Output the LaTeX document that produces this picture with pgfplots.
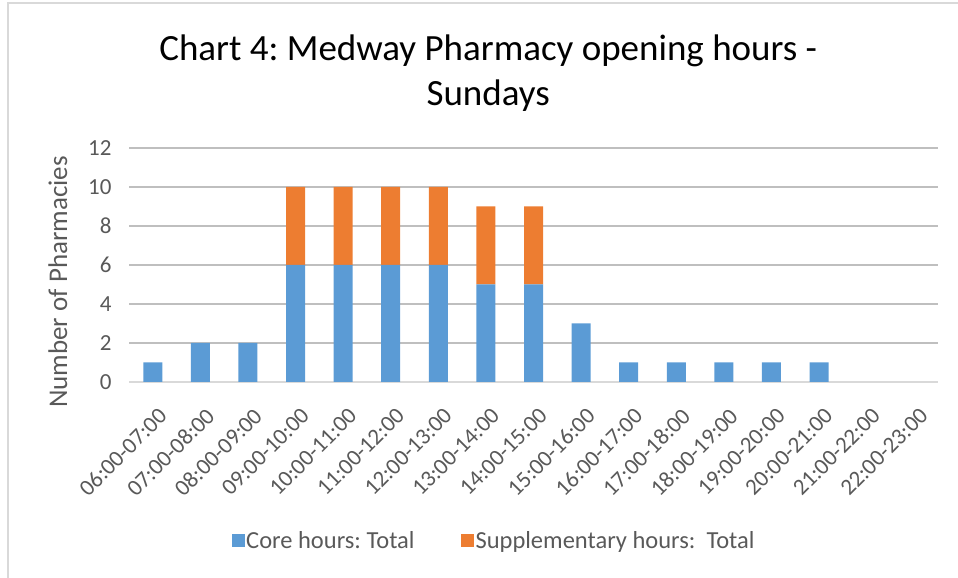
\documentclass[border=0pt]{standalone}
\usepackage{fontspec}
\setmainfont{Carlito}
\usepackage{pgfplots}
\pgfplotsset{compat=1.18}

\definecolor{core}{HTML}{5B9BD5}
\definecolor{supp}{HTML}{ED7D31}
\definecolor{txt}{HTML}{595959}
\definecolor{grid}{HTML}{D9D9D9}

\begin{document}
\frenchspacing
\begin{tikzpicture}
\path[use as bounding box] (0pt,0pt) rectangle (958pt,578pt);
\draw[grid,line width=1.2pt] (8pt,0pt) -- (8pt,575pt) -- (958pt,575pt);

\begin{axis}[
	at={(129pt,196pt)}, anchor=south west,
	scale only axis,
	width=809pt, height=234pt,
	ybar stacked,
	bar width=19pt,
	xmin=-0.5, xmax=16.5,
	ymin=0, ymax=12,
	ytick={0,2,...,12},
	xtick={0,...,16},
	xticklabels={06:00-07:00,07:00-08:00,08:00-09:00,09:00-10:00,10:00-11:00,11:00-12:00,12:00-13:00,13:00-14:00,14:00-15:00,15:00-16:00,16:00-17:00,17:00-18:00,18:00-19:00,19:00-20:00,20:00-21:00,21:00-22:00,22:00-23:00},
	xticklabel style={rotate=45, anchor=north east, xshift=-11pt, yshift=-17pt, font=\fontsize{23}{27}\selectfont, text=txt},
	yticklabel style={font=\fontsize{23}{27}\selectfont, text=txt, xshift=-14pt},
	/pgf/number format/assume math mode=true,
	major tick length=0pt,
	tick style={draw=none},
	xmajorgrids=false,
	ymajorgrids=true,
	grid style={grid, line width=1.2pt},
	separate axis lines,
	x axis line style={grid, line width=1.2pt, -},
	y axis line style={draw=none},
	axis x line*=bottom,
	axis y line*=left,
	ylabel={Number of Pharmacies},
	every axis y label/.style={at={(axis description cs:-0.0878,0.427)}, rotate=90, anchor=center, font=\fontsize{27}{31}\selectfont, text=txt},
	title={Chart 4: Medway Pharmacy opening hours -\\Sundays},
	title style={at={(axis description cs:0.444,1.295)}, anchor=center, align=center, font=\fontsize{37}{45}\selectfont, text=black},
	legend columns=2,
	legend style={at={(axis description cs:0.451,-0.679)}, anchor=center, draw=none, fill=none, font=\fontsize{24.5}{29}\selectfont, text=txt, nodes={inner xsep=1.5pt}, /tikz/every even column/.append style={column sep=45pt}},
	legend image code/.code={\fill[#1] (0pt,-6.5pt) rectangle (13pt,6.5pt);},
]
\addplot[fill=core, draw=none] coordinates {
	(0,1) (1,2) (2,2) (3,6) (4,6) (5,6) (6,6) (7,5) (8,5) (9,3) (10,1) (11,1) (12,1) (13,1) (14,1) (15,0) (16,0)
};
\addplot[fill=supp, draw=none] coordinates {
	(0,0) (1,0) (2,0) (3,4) (4,4) (5,4) (6,4) (7,4) (8,4) (9,0) (10,0) (11,0) (12,0) (13,0) (14,0) (15,0) (16,0)
};
\legend{Core hours: Total, Supplementary hours:\ \ Total}
\end{axis}
\end{tikzpicture}
\end{document}
